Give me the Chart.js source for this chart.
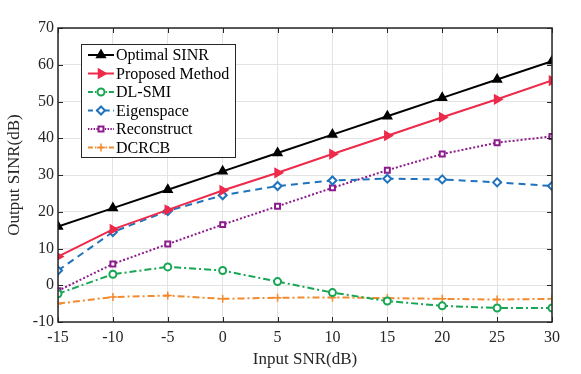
<!DOCTYPE html>
<html>
<head>
<meta charset="utf-8">
<script src="https://cdn.jsdelivr.net/npm/chart.js@4.4.1/dist/chart.umd.min.js"></script>
<style>
html,body{margin:0;padding:0;background:#fff;}
#wrap{width:581px;height:374px;position:relative;}
</style>
</head>
<body>
<div id="wrap"><canvas id="c" width="581" height="374"></canvas></div>
<script>
const inputSNR = [-15, -10, -5, 0, 5, 10, 15, 20, 25, 30];
const optimalSINR = [16, 21, 26, 31, 36, 41, 46, 51, 56, 61];
const proposedMethod = [7.8, 15.2, 20.5, 25.8, 30.6, 35.7, 40.7, 45.7, 50.6, 55.7];
const dlSMI = [-2.3, 3, 5, 4, 1, -2, -4.3, -5.6, -6.2, -6.2];
const eigenspace = [4, 14.5, 20.2, 24.5, 27, 28.5, 29, 28.8, 28, 27];
const reconstruct = [-1.5, 5.8, 11.2, 16.5, 21.5, 26.5, 31.3, 35.7, 38.8, 40.5];
const dcrcb = [-5, -3.2, -2.8, -3.7, -3.4, -3.3, -3.5, -3.7, -3.9, -3.7];
const yTicks = [-10, 0, 10, 20, 30, 40, 50, 60, 70];
const seriesNames = ['Optimal SINR', 'Proposed Method', 'DL-SMI', 'Eigenspace', 'Reconstruct', 'DCRCB'];

const FONT = "'Liberation Serif', 'Times New Roman', serif";
const toPts = arr => arr.map((v, i) => ({x: inputSNR[i], y: v}));

const styles = [
  {c:'#000000', dash:[], ps:'triangle', r:5, rot:0, fill:'#000000', bw:1.5},
  {c:'#EE2A4B', dash:[], ps:'triangle', r:5, rot:90, fill:'#EE2A4B', bw:1.5},
  {c:'#17A653', dash:[7,3,2,3], ps:'circle', r:3.5, rot:0, fill:'#ffffff', bw:2},
  {c:'#1F72BD', dash:[7,5], ps:'rectRot', r:4, rot:0, fill:'#ffffff', bw:2},
  {c:'#8C1A8C', dash:[2,2], ps:'rect', r:3.5, rot:0, fill:'#ffffff', bw:2},
  {c:'#F28A2E', dash:[7,3,2,3], ps:'cross', r:4, rot:0, fill:'#F28A2E', bw:1.5}
];
const seriesData = [optimalSINR, proposedMethod, dlSMI, eigenspace, reconstruct, dcrcb];

const datasets = seriesData.map((d, i) => ({
  label: seriesNames[i],
  data: toPts(d),
  borderColor: styles[i].c,
  backgroundColor: styles[i].fill,
  borderWidth: 2,
  borderDash: styles[i].dash,
  pointStyle: styles[i].ps,
  pointRadius: styles[i].r,
  pointRotation: styles[i].rot,
  pointBorderColor: styles[i].c,
  pointBackgroundColor: styles[i].fill,
  pointBorderWidth: styles[i].bw,
  tension: 0
}));

const innerTicks = {
  id: 'innerTicks',
  afterDatasetsDraw(chart) {
    const {ctx, chartArea: a, scales: {x, y}} = chart;
    ctx.save();
    ctx.strokeStyle = '#262626';
    ctx.lineWidth = 1;
    ctx.beginPath();
    inputSNR.forEach(v => {
      const px = Math.round(x.getPixelForValue(v)) + 0.5;
      ctx.moveTo(px, a.bottom); ctx.lineTo(px, a.bottom - 5);
      ctx.moveTo(px, a.top); ctx.lineTo(px, a.top + 5);
    });
    yTicks.forEach(v => {
      const py = Math.round(y.getPixelForValue(v)) + 0.5;
      ctx.moveTo(a.left, py); ctx.lineTo(a.left + 5, py);
      ctx.moveTo(a.right, py); ctx.lineTo(a.right - 5, py);
    });
    ctx.stroke();
    ctx.lineWidth = 1.5;
    ctx.strokeRect(a.left, a.top, a.right - a.left, a.bottom - a.top);
    ctx.restore();
  }
};

function drawMarker(ctx, s, cx, cy) {
  Chart.helpers.drawPoint(ctx, {pointStyle: s.ps, radius: s.r, rotation: s.rot, borderWidth: s.bw}, cx, cy);
}

const boxLegend = {
  id: 'boxLegend',
  afterDraw(chart) {
    const {ctx, chartArea: a} = chart;
    const x0 = a.left + 23, y0 = a.top + 16, w = 154, h = 113;
    ctx.save();
    ctx.fillStyle = '#ffffff';
    ctx.fillRect(x0, y0, w, h);
    ctx.strokeStyle = '#262626';
    ctx.lineWidth = 1;
    ctx.strokeRect(x0 + 0.5, y0 + 0.5, w, h);
    const rowH = 18.5;
    chart.data.datasets.forEach((ds, i) => {
      const s = styles[i];
      const cy = y0 + 11 + i * rowH;
      ctx.strokeStyle = s.c;
      ctx.lineWidth = 2;
      ctx.setLineDash(s.dash.length ? s.dash.map(v => v * 0.7) : []);
      ctx.beginPath();
      ctx.moveTo(x0 + 7, cy); ctx.lineTo(x0 + 33, cy);
      ctx.stroke();
      ctx.setLineDash([]);
      ctx.strokeStyle = s.c;
      ctx.fillStyle = s.fill;
      ctx.lineWidth = s.bw;
      drawMarker(ctx, s, x0 + 20, cy);
      ctx.fillStyle = '#000000';
      ctx.font = '16px ' + FONT;
      ctx.textBaseline = 'middle';
      ctx.textAlign = 'left';
      ctx.fillText(ds.label, x0 + 35, cy + 1);
    });
    ctx.restore();
  }
};

new Chart(document.getElementById('c'), {
  type: 'line',
  data: {datasets},
  options: {
    responsive: false,
    animation: false,
    devicePixelRatio: 1,
    layout: {padding: {top: 28, right: 29, left: 0, bottom: 0}},
    plugins: {legend: {display: false}, tooltip: {enabled: false}},
    scales: {
      x: {
        type: 'linear', min: -15, max: 30,
        afterFit: s => { s.height = 52; },
        afterBuildTicks: s => { s.ticks = inputSNR.map(v => ({value: v})); },
        grid: {color: '#e3e3e3', lineWidth: 1, drawTicks: false},
        border: {display: false},
        ticks: {color: '#262626', font: {family: FONT, size: 16}, padding: 6, maxRotation: 0},
        title: {display: true, text: 'Input SNR(dB)', color: '#262626', font: {family: FONT, size: 17}, padding: {top: 0}}
      },
      y: {
        type: 'linear', min: -10, max: 70,
        afterFit: s => { s.width = 58; },
        afterBuildTicks: s => { s.ticks = yTicks.map(v => ({value: v})); },
        grid: {color: '#e3e3e3', lineWidth: 1, drawTicks: false},
        border: {display: false},
        ticks: {color: '#262626', font: {family: FONT, size: 16}, padding: 4},
        title: {display: true, text: 'Output SINR(dB)', color: '#262626', font: {family: FONT, size: 17}, padding: {bottom: 0}}
      }
    }
  },
  plugins: [innerTicks, boxLegend]
});
</script>
</body>
</html>
